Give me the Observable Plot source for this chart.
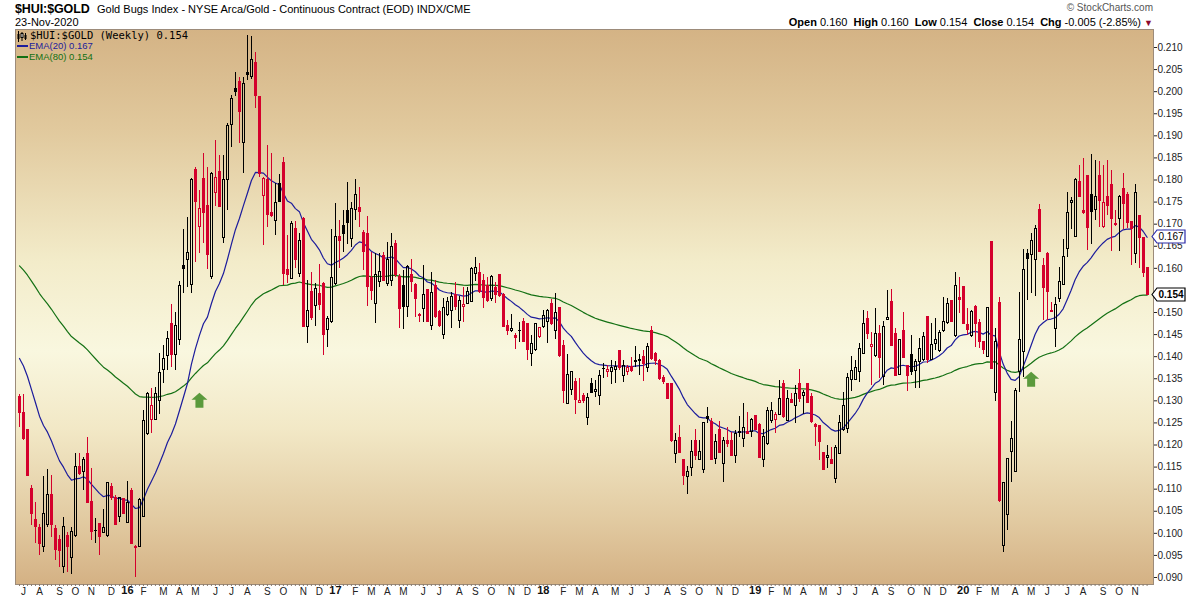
<!DOCTYPE html>
<html><head><meta charset="utf-8">
<script src="https://cdn.jsdelivr.net/npm/d3@7"></script>
<script src="https://cdn.jsdelivr.net/npm/@observablehq/plot@0.6"></script>
<style>
body{margin:0;background:#fff;font-family:"Liberation Sans",Arial,sans-serif;color:#000;}
#wrap{position:relative;width:1200px;height:600px;overflow:hidden;}
#chart{position:absolute;left:0;top:24px;}
.t{position:absolute;white-space:nowrap;line-height:1;}
#over{position:absolute;left:0;top:0;width:1200px;height:600px;pointer-events:none;}
</style></head><body>
<div id="wrap">
  <div id="chart"></div>
  <div id="over">
    <div class="t" style="left:15px;top:3px;font-size:12.5px;font-weight:bold;letter-spacing:-0.1px;">$HUI:$GOLD</div>
    <div class="t" style="left:97px;top:4px;font-size:11px;">Gold Bugs Index - NYSE Arca/Gold - Continuous Contract (EOD) INDX/CME</div>
    <div class="t" style="left:15px;top:17px;font-size:11px;">23-Nov-2020</div>
    <div class="t" style="right:47px;top:3px;font-size:10px;color:#555;">&#169; StockCharts.com</div>
    <div class="t" style="right:47px;top:17px;font-size:11px;"><b>Open</b> 0.160&nbsp; <b>High</b> 0.160&nbsp; <b>Low</b> 0.154&nbsp; <b>Close</b> 0.154&nbsp; <b>Chg</b> -0.005 (-2.85%) <span style="color:#8c0a2e;font-size:9px;">&#9660;</span></div>
    <svg class="t" style="left:16px;top:31px;" width="12" height="11"><path d="M2.5 0V11M6 1V10M9.5 2V9" stroke="#000"/><rect x="1.5" y="3" width="2" height="5" fill="#000"/><rect x="5" y="2.5" width="2" height="4" fill="#fff" stroke="#000"/><rect x="8.5" y="4" width="2" height="4" fill="#000"/></svg>
    <div class="t" style="left:30px;top:30px;font-size:10.5px;font-family:'DejaVu Sans Mono',monospace;">$HUI:$GOLD (Weekly) 0.154</div>
    <div class="t" style="left:17px;top:45px;width:11px;height:2px;background:#1c1c9c;"></div>
    <div class="t" style="left:29px;top:41px;font-size:9.5px;color:#1c1c9c;">EMA(20) 0.167</div>
    <div class="t" style="left:17px;top:56px;width:11px;height:2px;background:#137013;"></div>
    <div class="t" style="left:29px;top:52px;font-size:9.5px;color:#137013;">EMA(80) 0.154</div>
  </div>
</div>
<script>
// ---- data ----
const weekStart = "2015-06-29";
const opens = [
.1308,.1272,.1234,.1101,.1031,.1012,.0970,.1018,.1086,.1010,
.0985,.0923,.0995,.0944,.0993,.1151,.1140,.1180,.1070,.1006,
.1020,.1000,.0993,.1106,.1080,.1037,.1078,.1024,.1095,.0970,
.0968,.1037,.1224,.1257,.1257,.1299,.1370,.1401,.1474,.1403,
.1437,.1606,.1619,.1563,.1823,.1693,.1803,.1742,.1581,.1770,
.1819,.1669,.1799,.1925,.2006,.2022,.1883,.2043,.2033,.2065,
.1988,.1763,.1799,.1725,.1708,.1791,.1839,.1597,.1576,.1689,
.1587,.1712,.1467,.1546,.1514,.1541,.1565,.1461,.1478,.1565,
.1670,.1695,.1729,.1667,.1732,.1737,.1679,.1678,.1578,.1520,
.1569,.1627,.1565,.1572,.1654,.1580,.1561,.1512,.1586,.1563,
.1494,.1508,.1551,.1469,.1561,.1502,.1449,.1495,.1504,.1540,
.1480,.1512,.1519,.1523,.1587,.1590,.1572,.1561,.1531,.1555,
.1585,.1540,.1470,.1458,.1446,.1458,.1478,.1474,.1406,.1414,
.1444,.1467,.1478,.1519,.1459,.1510,.1425,.1293,.1325,.1342,
.1294,.1310,.1261,.1338,.1320,.1310,.1373,.1365,.1365,.1370,
.1412,.1356,.1365,.1376,.1390,.1392,.1399,.1375,.1459,.1405,
.1391,.1351,.1337,.1337,.1180,.1216,.1165,.1128,.1148,.1210,
.1166,.1144,.1263,.1253,.1169,.1234,.1157,.1208,.1208,.1175,
.1230,.1214,.1229,.1230,.1265,.1246,.1167,.1203,.1254,.1257,
.1267,.1338,.1255,.1301,.1289,.1337,.1312,.1337,.1308,.1246,
.1243,.1181,.1171,.1167,.1123,.1180,.1233,.1236,.1347,.1347,
.1365,.1406,.1486,.1423,.1401,.1452,.1354,.1483,.1523,.1452,
.1359,.1459,.1380,.1403,.1367,.1387,.1393,.1489,.1393,.1429,
.1412,.1458,.1477,.1525,.1446,.1532,.1557,.1472,.1446,.1512,
.1476,.1434,.1399,.1659,.1318,.1522,.0972,.1042,.1185,.1140,
.1366,.1410,.1633,.1631,.1618,.1731,.1605,.1633,.1504,.1463,
.1531,.1563,.1643,.1748,.1670,.1795,.1729,.1810,.1766,.1731,
.1808,.1693,.1761,.1788,.1700,.1711,.1780,.1765,.1705,.1633,
.1719,.1668,.1600];
const highs = [
.1314,.1314,.1236,.1108,.1070,.1021,.1129,.1144,.1131,.1018,
.0995,.1035,.1002,.1014,.1180,.1180,.1172,.1218,.1146,.1033,
.1021,.1055,.1116,.1113,.1086,.1082,.1080,.1117,.1101,.0972,
.1078,.1278,.1320,.1327,.1330,.1408,.1426,.1456,.1518,.1501,
.1571,.1689,.1714,.1803,.1829,.1776,.1861,.1829,.1818,.1889,
.1855,.1855,.1927,.1991,.2044,.2033,.2033,.2127,.2125,.2089,
.1989,.1806,.1878,.1859,.1791,.1812,.1850,.1674,.1705,.1705,
.1680,.1715,.1572,.1591,.1565,.1609,.1569,.1490,.1687,.1746,
.1708,.1732,.1795,.1750,.1802,.1782,.1686,.1717,.1636,.1634,
.1634,.1636,.1659,.1680,.1664,.1586,.1595,.1606,.1621,.1565,
.1497,.1606,.1551,.1591,.1572,.1505,.1531,.1535,.1546,.1567,
.1537,.1557,.1557,.1603,.1625,.1610,.1587,.1580,.1584,.1567,
.1587,.1542,.1482,.1495,.1452,.1478,.1486,.1476,.1448,.1476,
.1467,.1504,.1506,.1529,.1544,.1511,.1437,.1404,.1367,.1351,
.1350,.1317,.1316,.1350,.1346,.1369,.1384,.1380,.1391,.1390,
.1414,.1391,.1380,.1399,.1423,.1406,.1414,.1430,.1469,.1410,
.1393,.1357,.1338,.1337,.1225,.1244,.1165,.1151,.1210,.1236,
.1210,.1252,.1286,.1259,.1224,.1254,.1218,.1240,.1229,.1233,
.1264,.1293,.1274,.1259,.1267,.1248,.1236,.1286,.1297,.1274,
.1347,.1346,.1323,.1316,.1335,.1370,.1323,.1338,.1316,.1248,
.1243,.1181,.1199,.1195,.1199,.1267,.1320,.1361,.1400,.1391,
.1429,.1504,.1502,.1455,.1510,.1471,.1480,.1550,.1552,.1463,
.1438,.1501,.1381,.1448,.1393,.1442,.1455,.1492,.1474,.1487,
.1459,.1535,.1532,.1527,.1591,.1580,.1557,.1509,.1504,.1516,
.1484,.1434,.1512,.1661,.1464,.1535,.1116,.1170,.1253,.1327,
.1546,.1643,.1643,.1678,.1697,.1744,.1623,.1635,.1523,.1534,
.1603,.1665,.1771,.1761,.1803,.1833,.1848,.1810,.1857,.1844,
.1842,.1833,.1844,.1821,.1731,.1765,.1814,.1771,.1705,.1789,
.1719,.1668,.1600];
const lows = [
.1240,.1210,.1129,.1018,.0978,.0949,.0957,.1014,.0991,.0938,
.0922,.0910,.0912,.0906,.0991,.1131,.1097,.1067,.0984,.0978,
.0949,.0999,.0991,.1074,.1018,.1025,.1043,.1023,.0974,.0901,
.0967,.1035,.1221,.1225,.1255,.1270,.1339,.1369,.1376,.1369,
.1426,.1542,.1557,.1542,.1614,.1633,.1656,.1597,.1574,.1740,
.1738,.1657,.1731,.1874,.1988,.1882,.1814,.2025,.2027,.1961,
.1806,.1652,.1693,.1716,.1674,.1750,.1561,.1565,.1574,.1599,
.1580,.1465,.1429,.1482,.1469,.1505,.1403,.1420,.1474,.1561,
.1599,.1636,.1655,.1648,.1708,.1693,.1595,.1513,.1527,.1476,
.1557,.1571,.1559,.1559,.1580,.1463,.1461,.1489,.1546,.1489,
.1478,.1478,.1478,.1459,.1486,.1465,.1440,.1492,.1463,.1504,
.1463,.1477,.1517,.1522,.1570,.1542,.1508,.1522,.1525,.1520,
.1535,.1467,.1448,.1454,.1416,.1433,.1431,.1391,.1378,.1412,
.1442,.1464,.1429,.1470,.1439,.1399,.1293,.1291,.1313,.1270,
.1293,.1294,.1244,.1316,.1308,.1289,.1350,.1353,.1337,.1340,
.1369,.1342,.1357,.1365,.1376,.1357,.1344,.1365,.1391,.1380,
.1347,.1337,.1304,.1205,.1157,.1180,.1108,.1088,.1128,.1165,
.1165,.1135,.1248,.1166,.1156,.1180,.1116,.1195,.1174,.1157,
.1218,.1195,.1224,.1218,.1233,.1169,.1150,.1199,.1248,.1227,
.1267,.1259,.1254,.1293,.1249,.1297,.1270,.1293,.1248,.1197,
.1165,.1144,.1146,.1156,.1112,.1178,.1231,.1227,.1322,.1346,
.1342,.1405,.1440,.1335,.1399,.1350,.1335,.1482,.1425,.1354,
.1357,.1395,.1321,.1357,.1327,.1327,.1389,.1384,.1391,.1414,
.1409,.1455,.1472,.1477,.1444,.1497,.1474,.1449,.1444,.1421,
.1418,.1406,.1397,.1372,.1298,.1070,.0956,.1006,.1114,.1138,
.1320,.1353,.1527,.1542,.1537,.1635,.1482,.1482,.1500,.1421,
.1522,.1561,.1625,.1689,.1670,.1761,.1723,.1640,.1653,.1708,
.1693,.1691,.1720,.1638,.1695,.1638,.1689,.1691,.1606,.1610,
.1599,.1580,.1540];
const closes = [
.1273,.1214,.1130,.1043,.1014,.0976,.1043,.1087,.1019,.0962,
.0960,.1014,.0968,.1004,.1151,.1135,.1165,.1068,.1002,.1005,
.0991,.1012,.1114,.1080,.1019,.1080,.1044,.1069,.0976,.0967,
.1076,.1255,.1316,.1289,.1316,.1363,.1395,.1441,.1403,.1469,
.1561,.1599,.1635,.1800,.1750,.1735,.1725,.1631,.1814,.1805,
.1740,.1800,.1923,.1984,.1999,.1954,.2018,.2038,.2072,.1991,
.1814,.1803,.1720,.1719,.1748,.1750,.1588,.1585,.1701,.1618,
.1663,.1467,.1503,.1488,.1553,.1518,.1448,.1486,.1578,.1670,
.1661,.1677,.1702,.1735,.1767,.1727,.1636,.1557,.1548,.1586,
.1591,.1571,.1618,.1648,.1586,.1508,.1512,.1604,.1569,.1531,
.1492,.1540,.1478,.1544,.1490,.1470,.1511,.1523,.1535,.1512,
.1525,.1517,.1547,.1599,.1600,.1546,.1532,.1527,.1580,.1540,
.1538,.1468,.1459,.1463,.1443,.1457,.1433,.1416,.1429,.1474,
.1465,.1493,.1504,.1474,.1499,.1401,.1322,.1359,.1365,.1301,
.1300,.1299,.1307,.1317,.1325,.1357,.1372,.1370,.1375,.1376,
.1374,.1380,.1375,.1367,.1389,.1390,.1384,.1423,.1395,.1391,
.1350,.1342,.1304,.1208,.1210,.1181,.1129,.1138,.1184,.1175,
.1184,.1249,.1260,.1166,.1206,.1181,.1210,.1203,.1176,.1225,
.1227,.1239,.1225,.1257,.1233,.1171,.1219,.1276,.1278,.1267,
.1304,.1263,.1304,.1295,.1316,.1304,.1318,.1295,.1252,.1240,
.1206,.1144,.1176,.1157,.1193,.1249,.1289,.1352,.1368,.1375,
.1418,.1474,.1452,.1427,.1452,.1396,.1468,.1488,.1425,.1356,
.1437,.1396,.1357,.1366,.1389,.1418,.1444,.1393,.1427,.1437,
.1454,.1478,.1519,.1478,.1561,.1529,.1474,.1461,.1502,.1474,
.1434,.1414,.1510,.1372,.1433,.1074,.1114,.1169,.1214,.1323,
.1437,.1597,.1621,.1661,.1688,.1638,.1555,.1547,.1501,.1517,
.1570,.1625,.1726,.1753,.1799,.1761,.1726,.1691,.1728,.1761,
.1753,.1748,.1742,.1712,.1697,.1761,.1746,.1703,.1690,.1771,
.1668,.1590,.1540];
const ema20Seed = 0.1409;   // EMA values in force before the first visible week
const ema80Seed = 0.1614;
const yTickLabels = ["0.090","0.095","0.100","0.105","0.110","0.115","0.120","0.125","0.130","0.135","0.140","0.145","0.150","0.155","0.160","0.165","0.170","0.175","0.180","0.185","0.190","0.195","0.200","0.205","0.210"];
const monthLetters = ["J","F","M","A","M","J","J","A","S","O","N","D"];
const yearLabels = ["16","17","18","19","20"];
const arrowDates = ["2016-05-09","2020-05-04"];
const arrowValues = [0.1300, 0.1348];
const lastTags = [{v: 0.167, label: "0.167", color: "#2a2aa8", bold: false}, {v: 0.154, label: "0.154", color: "#000", bold: true}];

// ---- build ----
const RED = "#d4002c", BLUE = "#1c1c9c", GREEN = "#137013";
const DAY = 864e5;
const d0 = new Date(weekStart + "T00:00:00Z");
const k20 = 2 / 21, k80 = 2 / 81;
let e20 = ema20Seed, e80 = ema80Seed;
const data = opens.map((o, i) => {
  const c = closes[i];
  const prev = i ? closes[i - 1] : o;
  e20 += k20 * (c - e20); e80 += k80 * (c - e80);
  return {date: new Date(+d0 + i * 7 * DAY), o, h: highs[i], l: lows[i], c,
    top: Math.max(o, c), bot: Math.min(o, c),
    color: c < prev ? RED : "#000", hollow: c > o, ema20: e20, ema80: e80};
});
const xStart = new Date(+d0 - 7 * DAY);
const xEnd = new Date(+data[data.length - 1].date + 11.2 * DAY);
const months = d3.utcMonth.range(new Date("2015-07-01T00:00:00Z"), new Date("2020-12-01T00:00:00Z"))
  .map(m => ({date: d3.utcMonday.ceil(m), jan: m.getUTCMonth() === 0,
    label: m.getUTCMonth() === 0 ? yearLabels[m.getUTCFullYear() - 2016] : monthLetters[m.getUTCMonth()]}));
const arrows = arrowDates.map((d, i) => ({date: new Date(d + "T00:00:00Z"), v: arrowValues[i]}));
const arrowSymbol = {draw(ctx) {
  ctx.moveTo(0, -8); ctx.lineTo(8, -1); ctx.lineTo(4, -1); ctx.lineTo(4, 7);
  ctx.lineTo(-4, 7); ctx.lineTo(-4, -1); ctx.lineTo(-8, -1); ctx.closePath();
}};
const wx1 = d => new Date(+d.date - 3.5 * DAY), wx2 = d => new Date(+d.date + 3.5 * DAY);
// tick labels hidden behind a price tag are not drawn (as in the reference)
const yTicks = yTickLabels.map(Number).filter(v => lastTags.every(t => Math.abs(v - t.v) > 0.0015));

const chart = Plot.plot({
  width: 1200, height: 576,
  marginTop: 5, marginBottom: 16, marginLeft: 15, marginRight: 47,
  x: {type: "utc", domain: [xStart, xEnd], axis: null},
  y: {domain: [0.088415, 0.214076], axis: null},
  color: {type: "identity"},
  style: {background: "transparent", fontFamily: "'Liberation Sans', Arial, sans-serif", fontSize: "10px", overflow: "visible"},
  marks: [
    Plot.frame({fill: "url(#bgGrad)", stroke: "none"}),
    Plot.line(data, {x: "date", y: "ema80", stroke: GREEN, strokeWidth: 1.2}),
    Plot.line(data, {x: "date", y: "ema20", stroke: BLUE, strokeWidth: 1.2}),
    Plot.ruleX(data, {x: "date", y1: "h", y2: "top", stroke: "color", shapeRendering: "crispEdges"}),
    Plot.ruleX(data, {x: "date", y1: "bot", y2: "l", stroke: "color", shapeRendering: "crispEdges"}),
    Plot.rect(data, {x1: wx1, x2: wx2, y1: "bot", y2: "top", insetLeft: 1.5, insetRight: 0.5,
      stroke: "color", fill: d => d.hollow ? "none" : d.color, strokeWidth: 1, shapeRendering: "crispEdges"}),
    Plot.dot(arrows, {x: "date", y: "v", symbol: arrowSymbol, r: 8, fill: "#5b9a3c", stroke: "none"}),
    Plot.frame({stroke: "#9c8b7a"}),
    Plot.axisY(yTicks, {anchor: "right", tickFormat: d3.format(".3f"), tickSize: 3, tickPadding: 1, label: null, fontSize: 10, color: "#222"}),
    Plot.axisX(data.map(d => d.date), {tickSize: 2, tickFormat: () => "", label: null, stroke: "#8c7c6c"}),
    Plot.text(months.filter(m => !m.jan), {x: "date", text: "label", frameAnchor: "bottom", lineAnchor: "top", dy: 3, fontSize: 10, fill: "#222"}),
    Plot.text(months.filter(m => m.jan), {x: "date", text: "label", frameAnchor: "bottom", lineAnchor: "top", dy: 2, fontSize: 11, fontWeight: "bold", fill: "#111"})
  ]
});
const defs = d3.select(chart).insert("defs", ":first-child");
const grad = defs.append("linearGradient").attr("id", "bgGrad").attr("gradientUnits", "userSpaceOnUse")
  .attr("x1", 0).attr("x2", 0).attr("y1", 5).attr("y2", 560);
[[0, "#d4b385"], [0.18, "#e1c99d"], [0.42, "#f3ecca"], [0.58, "#f9f7df"], [0.72, "#f2e8c6"], [0.88, "#e2cba2"], [1, "#d4b184"]]
  .forEach(([o, c]) => grad.append("stop").attr("offset", o).attr("stop-color", c));
document.getElementById("chart").appendChild(chart);

// price tags on the right axis
const yS = chart.scale("y");
const over = document.getElementById("over");
lastTags.forEach(t => {
  const y = 24 + yS.apply(t.v);
  const s = document.createElementNS("http://www.w3.org/2000/svg", "svg");
  s.setAttribute("width", 36); s.setAttribute("height", 15);
  s.setAttribute("class", "t");
  s.style.left = "1151px"; s.style.top = (y - 7.5) + "px";
  s.innerHTML = `<polygon points="1,7.5 6,1 34,1 34,14 6,14" fill="#fff" stroke="${t.color}" stroke-width="1.2"/>` +
    `<text x="20" y="11.2" text-anchor="middle" font-size="10" font-family="Liberation Sans, Arial" ${t.bold ? 'font-weight="bold"' : ''} fill="#000">${t.label}</text>`;
  over.appendChild(s);
});
</script>
</body></html>
